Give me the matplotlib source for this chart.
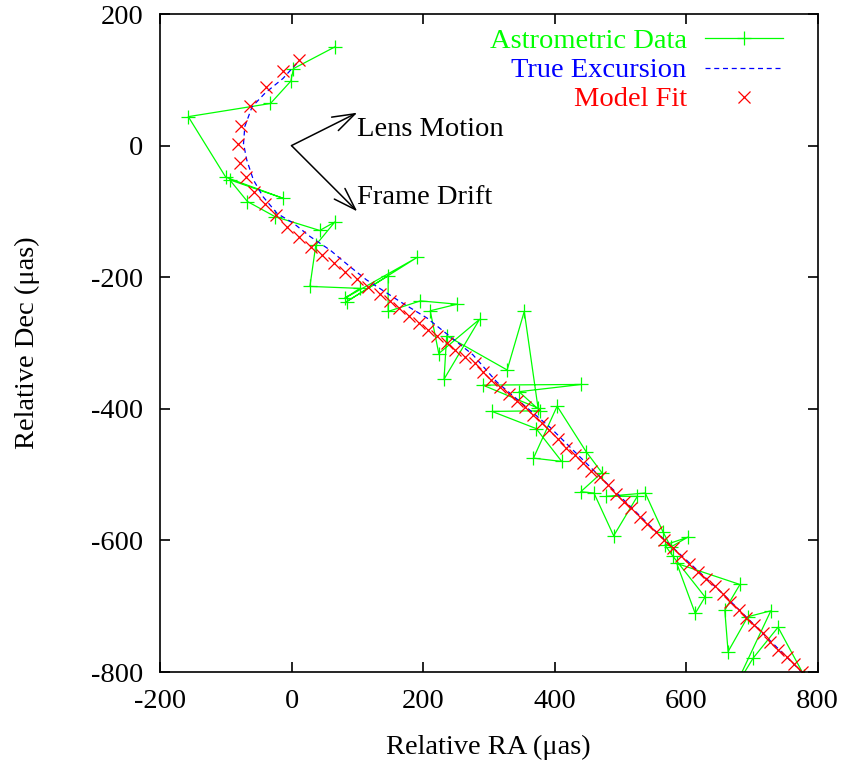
import matplotlib
matplotlib.use("Agg")
import matplotlib.pyplot as plt

plt.rcParams['font.family'] = ['Liberation Serif', 'DejaVu Serif']
plt.rcParams['axes.unicode_minus'] = False

# Astrometric data (noisy measured positions), in time order
data_ra = [66, 3, -1, -32, -157, -100, -13, -94, -67, -25, 43, 66, 37, 28, 104, 81,
           191, 84, 147, 147, 196, 252, 211, 224, 286, 232, 236, 328, 354, 375, 291,
           441, 346, 378, 305, 372, 411, 368, 404, 448, 472, 440, 460, 490, 526, 479,
           538, 565, 577, 603, 568, 580, 629, 614, 586, 682, 659, 664, 694, 729, 671,
           702, 740, 780]
data_dec = [150, 117, 98, 64, 44, -48, -80, -52, -85, -108, -129, -116, -151, -214,
            -217, -232, -170, -237, -198, -252, -236, -241, -251, -316, -264, -355,
            -289, -341, -252, -399, -364, -363, -374, -403, -404, -430, -480, -475,
            -396, -465, -497, -526, -528, -593, -533, -533, -528, -587, -610, -595,
            -607, -624, -686, -711, -635, -667, -706, -769, -716, -707, -830, -779,
            -732, -806]

# True excursion
true_ra = [8, -13, -40, -60, -71, -73, -68, -58, -43, -22, 3, 28, 59, 89, 114, 165,
           206, 241, 276, 312, 393, 469, 567, 656, 776]
true_dec = [125, 102, 80, 59, 29, 3, -22, -52, -78, -103, -118, -138, -159, -184,
            -204, -237, -262, -290, -318, -359, -428, -503, -599, -681, -800]

# Model fit
fit_ra = [11, -13, -39, -63, -77, -82, -79, -69, -57, -41, -24, -7, 11, 30, 47, 65,
          82, 100, 117, 134, 150, 164, 179, 194, 208, 222, 236, 249, 264, 279, 291,
          303, 317, 331, 343, 355, 368, 381, 392, 405, 417, 431, 444, 455, 469, 482,
          494, 505, 517, 530, 541, 554, 567, 580, 592, 605, 619, 631, 644, 656, 667,
          680, 692, 703, 717, 728, 740, 753, 765, 776]
fit_dec = [130, 113, 89, 60, 30, 2, -26, -48, -70, -88, -106, -123, -139, -154, -167,
           -179, -192, -203, -215, -225, -236, -247, -259, -270, -280, -290, -300,
           -311, -321, -331, -344, -356, -367, -378, -388, -398, -410, -421, -432,
           -446, -460, -470, -482, -494, -504, -516, -529, -541, -551, -564, -575,
           -587, -600, -611, -623, -636, -648, -658, -669, -682, -693, -706, -718,
           -729, -741, -754, -767, -777, -788, -800]

xticks = [-200, 0, 200, 400, 600, 800]
yticks = [200, 0, -200, -400, -600, -800]
legend_labels = ["Astrometric Data", "True Excursion", "Model Fit"]

GREEN = '#00ff00'
BLUE = '#0000ff'
RED = '#ff0000'
FS = 20.5

fig = plt.figure(figsize=(8.43, 7.6), dpi=100)
ax = fig.add_axes([160 / 843, 1 - 672 / 760, 657.5 / 843, 658 / 760])

ax.plot(data_ra, data_dec, color=GREEN, lw=0.9, marker='+', ms=10, mew=0.9)
ax.plot(true_ra, true_dec, color=BLUE, lw=0.9, dashes=(4, 3))
ax.plot(fit_ra, fit_dec, ls='none', marker='x', color=RED, ms=8, mew=0.9)

ax.set_xlim(-200, 800)
ax.set_ylim(-800, 200)
ax.set_xticks(xticks)
ax.set_yticks(yticks)
ax.set_xticklabels([str(v) for v in xticks])
ax.set_yticklabels([str(v) for v in yticks])
ax.tick_params(direction='in', length=7, width=1.2, labelsize=FS,
               top=True, right=True, pad=12)
for s in ax.spines.values():
    s.set_linewidth(1.2)

ax.set_xlabel("Relative RA (\u03bcas)", fontsize=FS, labelpad=15)
ax.set_ylabel("Relative Dec (\u03bcas)", fontsize=FS, labelpad=37)

# arrows and labels
hs = dict(arrowstyle='->,head_length=0.9,head_width=0.3', color='black', lw=1.1,
          mutation_scale=18, shrinkA=0, shrinkB=0)
ax.annotate('', xy=(100, 50), xytext=(0, 0), arrowprops=hs)
ax.annotate('', xy=(100, -100), xytext=(0, 0), arrowprops=hs)
ax.text(100, 24, "Lens Motion", fontsize=FS, ha='left', va='center')
ax.text(100, -79, "Frame Drift", fontsize=FS, ha='left', va='center')

# gnuplot-like key
rows = [0.9628, 0.9175, 0.8739]
toff = -0.004
tx, lx0, lx1 = 0.801, 0.829, 0.9475
lmid = (lx0 + lx1) / 2
ax.text(tx, rows[0] + toff, legend_labels[0], color=GREEN, fontsize=FS, ha='right',
        va='center', transform=ax.transAxes)
ax.plot([lx0, lx1], [rows[0], rows[0]], color=GREEN, lw=0.9, transform=ax.transAxes)
ax.plot([lmid], [rows[0]], color=GREEN, marker='+', ms=10, mew=0.9,
        transform=ax.transAxes)
ax.text(tx, rows[1] + toff, legend_labels[1], color=BLUE, fontsize=FS, ha='right',
        va='center', transform=ax.transAxes)
ax.plot([lx0, lx1], [rows[1], rows[1]], color=BLUE, lw=0.9, dashes=(4, 3),
        transform=ax.transAxes)
ax.text(tx, rows[2] + toff, legend_labels[2], color=RED, fontsize=FS, ha='right',
        va='center', transform=ax.transAxes)
ax.plot([lmid], [rows[2]], color=RED, marker='x', ms=8, mew=0.9,
        transform=ax.transAxes)

fig.savefig("out.png", dpi=100)
